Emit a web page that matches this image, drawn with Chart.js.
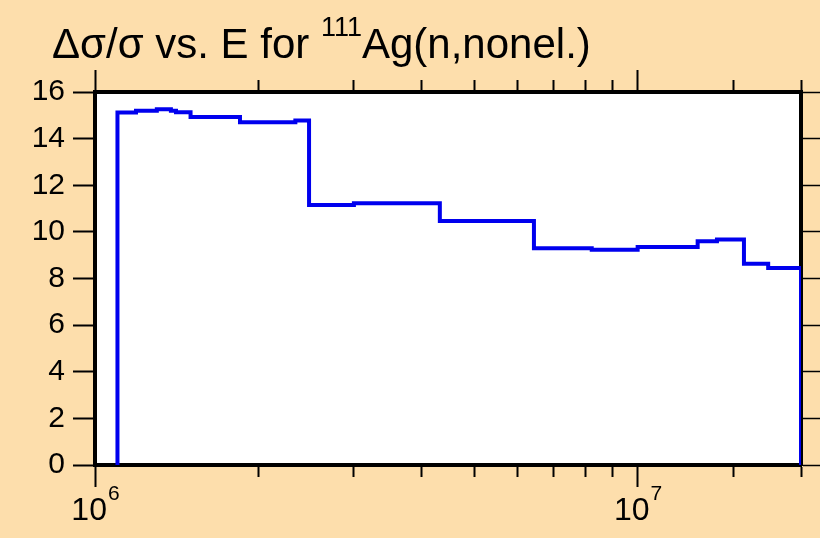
<!DOCTYPE html>
<html><head><meta charset="utf-8">
<script src="https://cdn.jsdelivr.net/npm/chart.js@4/dist/chart.umd.min.js"></script>
<style>html,body{margin:0;padding:0;background:#FDDEAC;} canvas{display:block;}</style>
</head><body>
<canvas id="c" width="820" height="538"></canvas>
<script>
// Bin edges (eV) and relative uncertainty values (%)
const binEdges = [1.1e6, 1.19e6, 1.30e6, 1.38e6, 1.41e6, 1.5e6, 1.85e6, 2.34e6, 2.48e6, 3.0e6, 4.32e6, 6.44e6, 8.23e6, 1.0e7, 1.29e7, 1.40e7, 1.57e7, 1.74e7, 2.0e7];
const binValues = [15.12, 15.20, 15.26, 15.20, 15.13, 14.93, 14.70, 14.78, 11.15, 11.23, 10.47, 9.30, 9.23, 9.35, 9.60, 9.67, 8.63, 8.45];
const xMin = 1e6, xMax = 2e7;
const yMin = 0, yMax = 16, yStep = 2;
const xLabelValues = [1e6, 1e7];
const xLabelBases = ['10', '10'];
const xLabelExps = ['6', '7'];
const titleMain = 'Δσ/σ vs. E for ';
const titleSup = '111';
const titleRest = 'Ag(n,nonel.)';

const FONT = '"Liberation Sans", Arial, Helvetica, sans-serif';
const BG = '#FDDEAC';

const points = [{x: binEdges[0], y: 0}];
for (let i = 0; i < binValues.length; i++) points.push({x: binEdges[i], y: binValues[i]});
points.push({x: binEdges[binEdges.length - 1], y: binValues[binValues.length - 1]});
points.push({x: binEdges[binEdges.length - 1], y: 0});

function isMajor(v) { const l = Math.log10(v); return Math.abs(l - Math.round(l)) < 1e-9; }

const decor = {
  id: 'decor',
  beforeDraw(chart) {
    const {ctx, chartArea: a} = chart;
    ctx.save();
    ctx.fillStyle = BG;
    ctx.fillRect(0, 0, chart.width, chart.height);
    ctx.fillStyle = '#FFFFFF';
    ctx.fillRect(a.left, a.top, a.right - a.left, a.bottom - a.top);
    ctx.restore();
  },
  afterDraw(chart) {
    const {ctx} = chart;
    const xs = chart.scales.x;
    ctx.save();
    ctx.fillStyle = '#000';
    ctx.textBaseline = 'alphabetic';
    ctx.textAlign = 'left';
    // x tick labels with superscripts
    for (let i = 0; i < xLabelValues.length; i++) {
      const px = xs.getPixelForValue(xLabelValues[i]);
      ctx.font = '32px ' + FONT;
      const w1 = ctx.measureText(xLabelBases[i]).width;
      ctx.font = '21px ' + FONT;
      const w2 = ctx.measureText(xLabelExps[i]).width;
      const x0 = px - (w1 + w2) / 2;
      ctx.font = '32px ' + FONT;
      ctx.fillText(xLabelBases[i], x0, 520);
      ctx.font = '21px ' + FONT;
      ctx.fillText(xLabelExps[i], x0 + w1 + 1, 500);
    }
    // title
    let tx = 52;
    ctx.font = '42px ' + FONT;
    ctx.fillText(titleMain, tx, 58);
    tx += ctx.measureText(titleMain).width;
    ctx.font = '27px ' + FONT;
    ctx.fillText(titleSup, tx, 36);
    tx += ctx.measureText(titleSup).width;
    ctx.font = '42px ' + FONT;
    ctx.fillText(titleRest, tx, 58);
    ctx.restore();
  }
};

const tickCommon = {
  display: true,
  drawOnChartArea: false,
  drawTicks: true,
  tickLength: 22,
  tickWidth: 2,
  tickColor: '#000'
};

new Chart(document.getElementById('c'), {
  type: 'line',
  data: {
    datasets: [{
      data: points,
      stepped: 'before',
      borderColor: '#0000EE',
      borderWidth: 4,
      pointRadius: 0,
      fill: false,
      clip: {left: 4, top: 4, right: 0, bottom: 0}
    }]
  },
  options: {
    responsive: false,
    animation: false,
    devicePixelRatio: 1,
    layout: {padding: {left: 20, top: 72, right: 0, bottom: 0}},
    plugins: {legend: {display: false}, tooltip: {enabled: false}, title: {display: false}},
    scales: {
      x: {
        type: 'logarithmic', position: 'bottom', min: xMin, max: xMax,
        afterFit(s) { s.height = 73; },
        ticks: {display: false, autoSkip: false},
        grid: Object.assign({}, tickCommon, {
          tickBorderDash: (c) => (c.tick && isMajor(c.tick.value)) ? [] : [10, 100]
        }),
        border: {display: true, width: 4, color: '#000'}
      },
      x2: {
        type: 'logarithmic', position: 'top', min: xMin, max: xMax,
        afterFit(s) { s.height = 20; },
        ticks: {display: false, autoSkip: false},
        grid: Object.assign({}, tickCommon, {
          tickBorderDash: (c) => (c.tick && isMajor(c.tick.value)) ? [] : [10, 10],
          tickBorderDashOffset: (c) => (c.tick && isMajor(c.tick.value)) ? 0 : 10
        }),
        border: {display: true, width: 4, color: '#000'}
      },
      y: {
        type: 'linear', position: 'left', min: yMin, max: yMax,
        afterFit(s) { s.width = 75; },
        ticks: {stepSize: yStep, color: '#000', padding: 8, font: {family: FONT, size: 30}},
        grid: tickCommon,
        border: {display: true, width: 4, color: '#000'}
      },
      y2: {
        type: 'linear', position: 'right', min: yMin, max: yMax,
        afterFit(s) { s.width = 19; },
        ticks: {display: false, stepSize: yStep},
        grid: Object.assign({}, tickCommon, {tickLength: 19, tickWidth: 1.5}),
        border: {display: true, width: 4, color: '#000'}
      }
    }
  },
  plugins: [decor]
});
</script>
</body></html>
